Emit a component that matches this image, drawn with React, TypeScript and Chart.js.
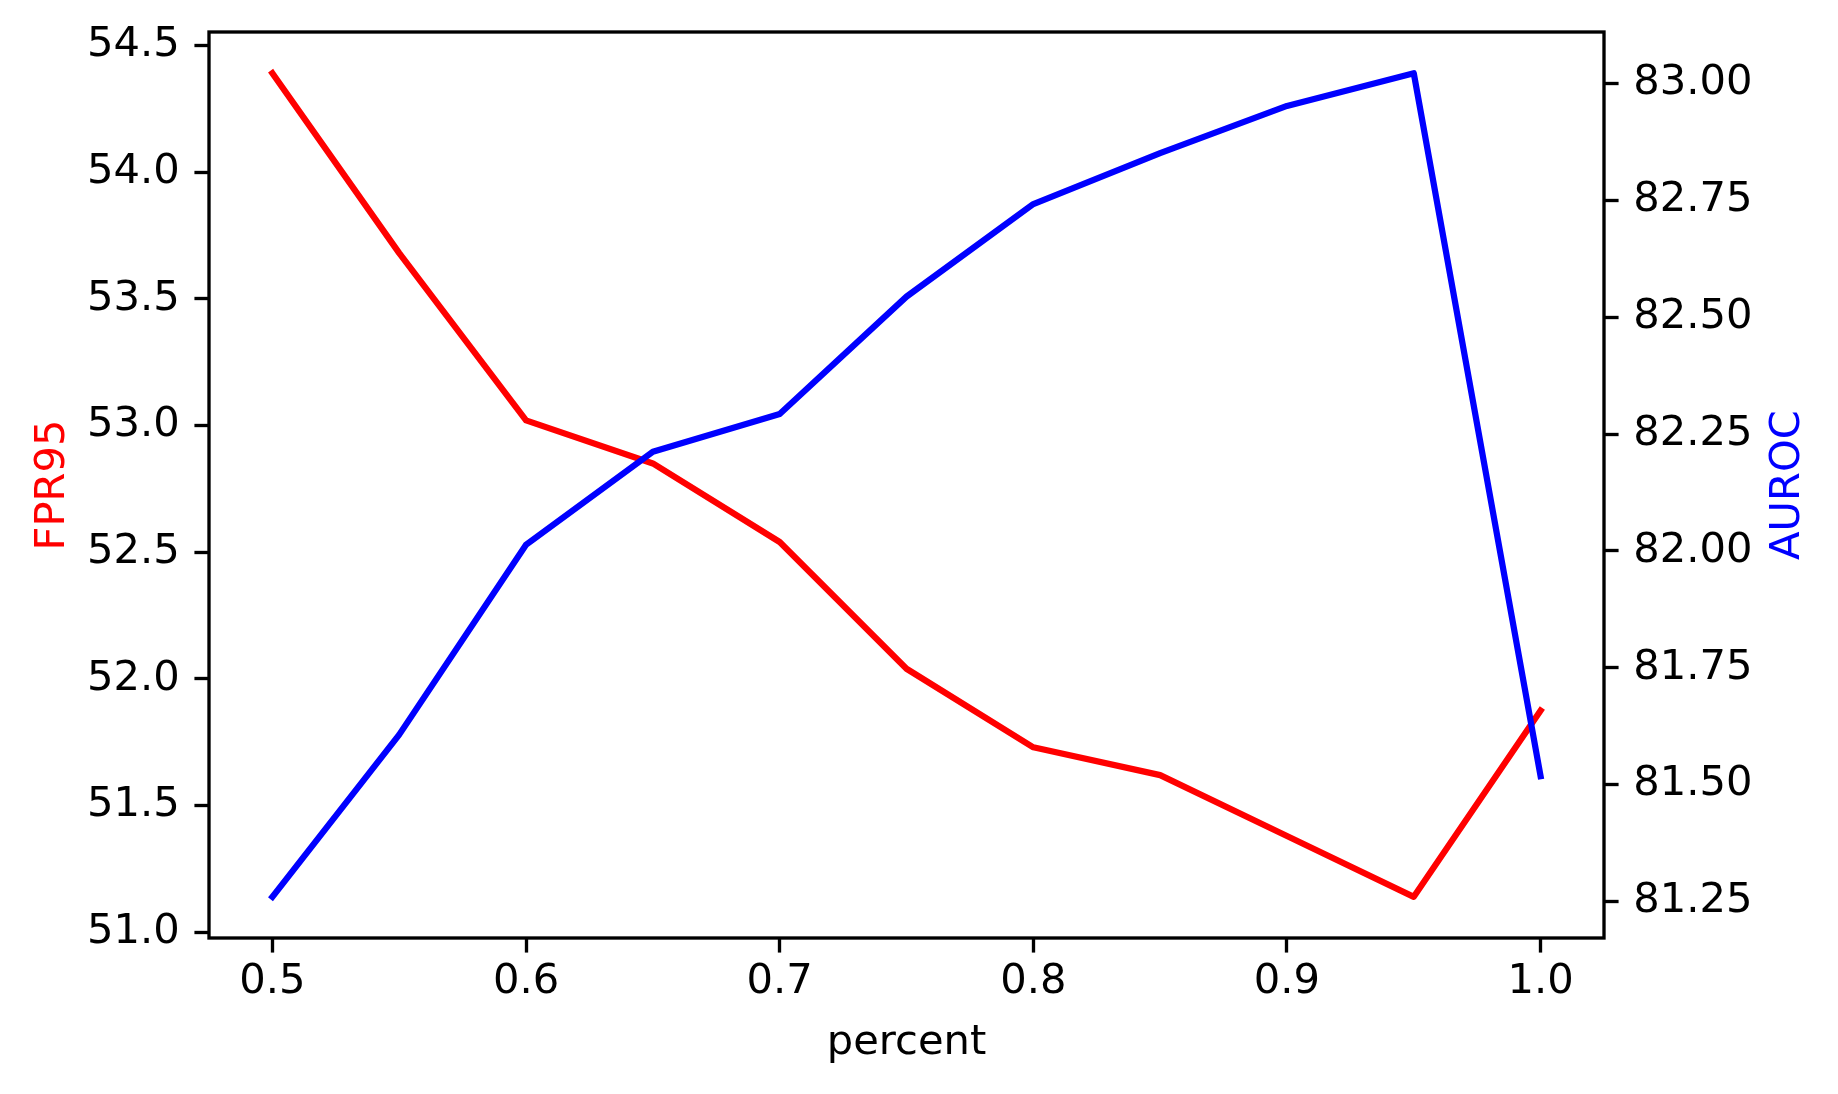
import React, { useEffect, useRef } from 'react';
import { Chart, registerables } from 'chart.js';

Chart.register(...registerables);

const percent = [0.5, 0.55, 0.6, 0.65, 0.7, 0.75, 0.8, 0.85, 0.9, 0.95, 1.0];
const fpr95 = [54.39, 53.68, 53.02, 52.85, 52.54, 52.04, 51.73, 51.62, 51.38, 51.14, 51.875];
const auroc = [81.26, 81.607, 82.013, 82.212, 82.293, 82.544, 82.742, 82.851, 82.952, 83.022, 81.518];

const xTicks = [0.5, 0.6, 0.7, 0.8, 0.9, 1.0];
const fprTicks = [51.0, 51.5, 52.0, 52.5, 53.0, 53.5, 54.0, 54.5];
const aurocTicks = [81.25, 81.5, 81.75, 82.0, 82.25, 82.5, 82.75, 83.0];

const xLabel = 'percent';
const leftLabel = 'FPR95';
const rightLabel = 'AUROC';

const FONT = '"DejaVu Sans", sans-serif';
const FS = 41.67;
const LW = 3.33;
const TL = 14.58;

function withMargin(arr: number[]) {
  const mn = Math.min(...arr);
  const mx = Math.max(...arr);
  const m = (mx - mn) * 0.05;
  return { min: mn - m, max: mx + m };
}

export default function App() {
  const ref = useRef<HTMLCanvasElement | null>(null);

  useEffect(() => {
    document.body.style.margin = '0';
    const canvas = ref.current;
    if (!canvas) return;
    const xr = withMargin(percent);
    const lr = withMargin(fpr95);
    const rr = withMargin(auroc);

    const framePlugin = {
      id: 'frameAndTitles',
      afterDraw(chart: any) {
        const { ctx, chartArea } = chart;
        const { left, right, top, bottom } = chartArea;
        ctx.save();
        ctx.strokeStyle = '#000';
        ctx.lineWidth = LW;
        ctx.lineJoin = 'miter';
        ctx.strokeRect(left, top, right - left, bottom - top);
        ctx.font = `${FS}px ${FONT}`;
        ctx.textAlign = 'center';
        ctx.textBaseline = 'alphabetic';
        ctx.fillStyle = '#000';
        ctx.fillText(xLabel, (left + right) / 2, 1054);
        const cy = (top + bottom) / 2;
        ctx.save();
        ctx.translate(64, cy);
        ctx.rotate(-Math.PI / 2);
        ctx.fillStyle = '#ff0000';
        ctx.fillText(leftLabel, 0, 0);
        ctx.restore();
        ctx.save();
        ctx.translate(1799, cy);
        ctx.rotate(-Math.PI / 2);
        ctx.fillStyle = '#0000ff';
        ctx.fillText(rightLabel, 0, 0);
        ctx.restore();
        ctx.restore();
      },
    };

    const gridOpts = {
      display: true,
      drawOnChartArea: false,
      drawTicks: true,
      tickLength: TL,
      tickWidth: LW,
      tickColor: '#000',
    };

    const zeroPad = (s: any) => {
      s.paddingTop = 0;
      s.paddingBottom = 0;
      s.paddingLeft = 0;
      s.paddingRight = 0;
    };

    const chart = new Chart(canvas, {
      type: 'line',
      data: {
        datasets: [
          {
            label: rightLabel,
            data: percent.map((x, i) => ({ x, y: auroc[i] })),
            yAxisID: 'y1',
            borderColor: '#0000ff',
            backgroundColor: '#0000ff',
            borderWidth: 6.25,
            pointRadius: 0,
            tension: 0,
            borderCapStyle: 'square',
            borderJoinStyle: 'round',
            fill: false,
          },
          {
            label: leftLabel,
            data: percent.map((x, i) => ({ x, y: fpr95[i] })),
            yAxisID: 'y',
            borderColor: '#ff0000',
            backgroundColor: '#ff0000',
            borderWidth: 6.25,
            pointRadius: 0,
            tension: 0,
            borderCapStyle: 'square',
            borderJoinStyle: 'round',
            fill: false,
          },
        ],
      },
      options: {
        responsive: false,
        animation: false,
        devicePixelRatio: 1,
        layout: { padding: { top: 32, left: 0, right: 0, bottom: 0 } },
        plugins: { legend: { display: false }, tooltip: { enabled: false } },
        scales: {
          x: {
            type: 'linear',
            position: 'bottom',
            min: xr.min,
            max: xr.max,
            afterBuildTicks: (s: any) => {
              s.ticks = xTicks.map((v) => ({ value: v }));
            },
            afterFit: (s: any) => {
              s.height = 156;
              zeroPad(s);
            },
            grid: gridOpts,
            border: { display: false },
            ticks: {
              color: '#000',
              font: { family: FONT, size: FS },
              padding: 5,
              maxRotation: 0,
              autoSkip: false,
              callback: (v: any) => Number(v).toFixed(1),
            },
          },
          y: {
            type: 'linear',
            position: 'left',
            min: lr.min,
            max: lr.max,
            afterBuildTicks: (s: any) => {
              s.ticks = fprTicks.map((v) => ({ value: v }));
            },
            afterFit: (s: any) => {
              s.width = 209;
              zeroPad(s);
            },
            grid: gridOpts,
            border: { display: false },
            ticks: {
              color: '#000',
              font: { family: FONT, size: FS },
              padding: 14.6,
              autoSkip: false,
              callback: (v: any) => Number(v).toFixed(1),
            },
          },
          y1: {
            type: 'linear',
            position: 'right',
            min: rr.min,
            max: rr.max,
            afterBuildTicks: (s: any) => {
              s.ticks = aurocTicks.map((v) => ({ value: v }));
            },
            afterFit: (s: any) => {
              s.width = 234;
              zeroPad(s);
            },
            grid: gridOpts,
            border: { display: false },
            ticks: {
              color: '#000',
              font: { family: FONT, size: FS },
              padding: 14.6,
              autoSkip: false,
              callback: (v: any) => Number(v).toFixed(2),
            },
          },
        },
      },
      plugins: [framePlugin],
    } as any);

    return () => {
      chart.destroy();
    };
  }, []);

  return (
    <div style={{ position: 'absolute', left: 0, top: 0, width: 1838, height: 1094, background: '#fff' }}>
      <canvas ref={ref} width={1838} height={1094} style={{ width: 1838, height: 1094, display: 'block' }} />
    </div>
  );
}
